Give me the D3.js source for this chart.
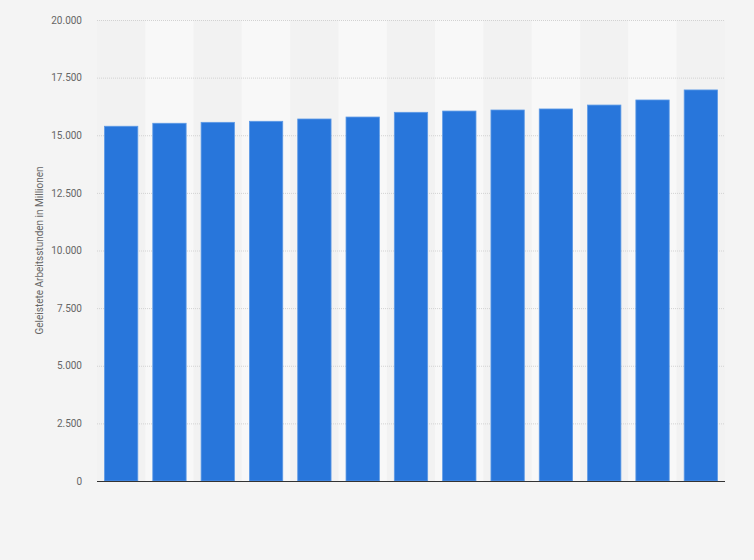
<!DOCTYPE html>
<html>
<head>
<meta charset="utf-8">
<script src="https://cdn.jsdelivr.net/npm/d3@7"></script>
<style>
  body { margin: 0; background: #f4f4f4; }
  svg { display: block; }
</style>
</head>
<body>
<svg id="chart" width="754" height="560"></svg>
<script>
// values, one bar per year (no category labels shown)
const years = ["2010","2011","2012","2013","2014","2015","2016","2017","2018","2019","2020","2021","2022"];
const hours = [15390, 15520, 15560, 15605, 15705, 15790, 15995, 16050, 16095, 16140, 16310, 16530, 16965];
const yTicks = [0, 2500, 5000, 7500, 10000, 12500, 15000, 17500, 20000];

const svg = d3.select('#chart');
const margin = {top: 20, right: 29, bottom: 79, left: 97};
const width = 754 - margin.left - margin.right;
const height = 560 - margin.top - margin.bottom;

const g = svg.append('g').attr('transform', `translate(${margin.left},${margin.top})`);

const x = d3.scaleBand().domain(years).range([0, width]).paddingInner(0.31).paddingOuter(0.155);
const xBand = d3.scaleBand().domain(years).range([0, width]);
const y = d3.scaleLinear().domain([0, 20000]).range([height, 0]);

const fmt = d => d3.format(',')(d).replace(/,/g, '.');

// alternating column backgrounds
g.selectAll('rect.band')
    .data(years)
    .enter()
    .append('rect')
    .attr('class', 'band')
    .attr('x', d => xBand(d))
    .attr('y', 0)
    .attr('width', xBand.bandwidth())
    .attr('height', height)
    .attr('fill', (d, i) => i % 2 ? '#f8f8f8' : '#f2f2f2')

// gridlines
g.selectAll('line.grid')
    .data(yTicks.filter(t => t > 0))
    .enter()
    .append('line')
    .attr('class', 'grid')
    .attr('x1', 0)
    .attr('x2', width)
    .attr('y1', d => y(d) + 0.5)
    .attr('y2', d => y(d) + 0.5)
    .attr('stroke', '#d2d2d2')
    .attr('stroke-width', 1)
    .attr('stroke-dasharray', '1,1')

// y axis labels
const yAxis = g.append('g')
    .call(d3.axisLeft(y).tickValues(yTicks).tickFormat(fmt).tickSize(0).tickPadding(15))
yAxis.select('.domain').remove()
yAxis.selectAll('text')
    .style('font-family', 'Roboto, Arial, sans-serif')
    .style('font-size', '10px')
    .attr('fill', '#666')

// bars
g.selectAll('rect.bar')
    .data(years.map((yr, i) => ({year: yr, value: hours[i]})))
    .enter()
    .append('rect')
    .attr('class', 'bar')
    .attr('x', d => x(d.year))
    .attr('y', d => y(d.value))
    .attr('width', x.bandwidth())
    .attr('height', d => height - y(d.value))
    .attr('fill', '#2876db')
    .attr('stroke', '#5d9ae6')
    .attr('stroke-width', 0.8)

// x axis line
g.append('line')
    .attr('x1', 0)
    .attr('x2', width)
    .attr('y1', height + 0.5)
    .attr('y2', height + 0.5)
    .attr('stroke', '#333')
    .attr('stroke-width', 1)

// y axis title
svg.append('text')
    .attr('transform', `translate(43,${margin.top + height / 2}) rotate(-90)`)
    .attr('text-anchor', 'middle')
    .style('font-family', 'Roboto, Arial, sans-serif')
    .style('font-size', '10px')
    .attr('fill', '#666')
    .text('Geleistete Arbeitsstunden in Millionen')
</script>
</body>
</html>
